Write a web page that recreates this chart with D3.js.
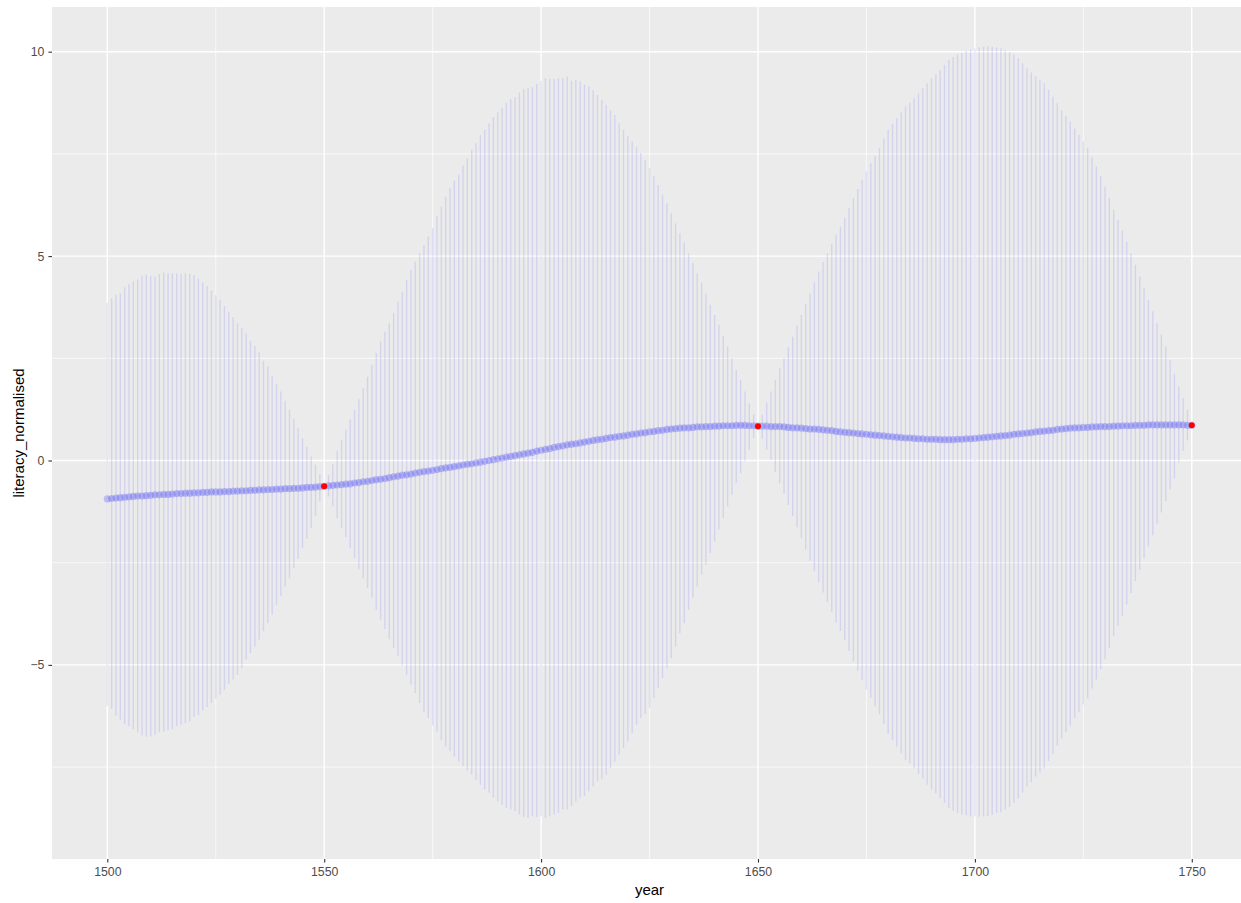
<!DOCTYPE html>
<html>
<head>
<meta charset="utf-8">
<script src="https://cdn.jsdelivr.net/npm/d3@7"></script>
<style>
  html, body { margin: 0; padding: 0; background: #ffffff; }
  svg { display: block; }
</style>
</head>
<body>
<svg id="chart" width="1241" height="903"></svg>
<script>
// ---- data ----
const startYear = 1500, endYear = 1750;
const years = d3.range(startYear, endYear + 1);

const meanValues = [
  -0.94,-0.93,-0.92,-0.91,-0.90,-0.89,-0.88,-0.87,-0.87,-0.86,
  -0.85,-0.84,-0.84,-0.83,-0.83,-0.82,-0.81,-0.81,-0.80,-0.80,
  -0.79,-0.79,-0.78,-0.78,-0.77,-0.77,-0.77,-0.76,-0.76,-0.75,
  -0.75,-0.74,-0.74,-0.73,-0.73,-0.72,-0.72,-0.71,-0.71,-0.70,
  -0.70,-0.69,-0.69,-0.68,-0.68,-0.67,-0.66,-0.66,-0.65,-0.64,
  -0.63,-0.62,-0.61,-0.60,-0.59,-0.58,-0.57,-0.55,-0.54,-0.52,
  -0.51,-0.49,-0.47,-0.46,-0.44,-0.42,-0.40,-0.38,-0.36,-0.35,
  -0.33,-0.31,-0.29,-0.27,-0.26,-0.24,-0.22,-0.20,-0.18,-0.17,
  -0.15,-0.13,-0.11,-0.09,-0.08,-0.06,-0.04,-0.02,0.00,0.02,
  0.04,0.06,0.08,0.10,0.12,0.14,0.16,0.18,0.20,0.23,
  0.25,0.27,0.29,0.32,0.34,0.36,0.38,0.40,0.41,0.43,
  0.45,0.47,0.49,0.51,0.52,0.54,0.56,0.57,0.59,0.60,
  0.62,0.64,0.65,0.67,0.68,0.70,0.71,0.73,0.74,0.76,
  0.77,0.78,0.79,0.80,0.80,0.81,0.82,0.82,0.83,0.83,
  0.84,0.84,0.85,0.85,0.85,0.86,0.86,0.86,0.85,0.85,
  0.84,0.84,0.84,0.83,0.83,0.83,0.82,0.81,0.80,0.80,
  0.79,0.78,0.77,0.77,0.76,0.75,0.74,0.73,0.71,0.70,
  0.69,0.68,0.67,0.66,0.65,0.64,0.63,0.62,0.61,0.60,
  0.59,0.58,0.57,0.56,0.55,0.55,0.54,0.53,0.53,0.52,
  0.52,0.52,0.51,0.51,0.51,0.51,0.52,0.52,0.53,0.53,
  0.54,0.55,0.56,0.57,0.58,0.59,0.60,0.61,0.62,0.64,
  0.65,0.66,0.67,0.68,0.70,0.71,0.72,0.73,0.74,0.76,
  0.77,0.78,0.79,0.80,0.80,0.81,0.81,0.82,0.82,0.83,
  0.83,0.83,0.84,0.84,0.85,0.85,0.85,0.86,0.86,0.86,
  0.87,0.87,0.87,0.87,0.87,0.87,0.87,0.87,0.87,0.86,
  0.86
];

const upperValues = [
  3.86,3.97,4.05,4.09,4.24,4.31,4.38,4.43,4.52,4.55,
  4.52,4.50,4.56,4.60,4.58,4.58,4.58,4.56,4.58,4.56,
  4.54,4.46,4.36,4.27,4.16,4.05,3.93,3.78,3.64,3.51,
  3.36,3.24,3.11,2.93,2.80,2.64,2.44,2.30,2.07,1.88,
  1.69,1.46,1.24,1.02,0.79,0.55,0.33,0.10,-0.10,-0.33,
  -0.63,-0.36,-0.08,0.24,0.50,0.75,1.00,1.24,1.50,1.77,
  2.05,2.34,2.63,2.91,3.15,3.36,3.60,3.89,4.13,4.42,
  4.66,4.87,5.07,5.27,5.48,5.68,5.97,6.21,6.45,6.66,
  6.85,6.99,7.21,7.39,7.60,7.76,7.96,8.09,8.25,8.40,
  8.51,8.62,8.75,8.84,8.89,9.00,9.08,9.11,9.13,9.21,
  9.29,9.35,9.33,9.33,9.35,9.35,9.39,9.29,9.32,9.27,
  9.19,9.15,9.06,8.94,8.82,8.70,8.57,8.45,8.25,8.09,
  7.94,7.80,7.66,7.52,7.35,7.15,6.96,6.74,6.50,6.29,
  6.05,5.80,5.56,5.33,5.07,4.83,4.58,4.35,4.09,3.81,
  3.56,3.32,3.05,2.79,2.50,2.22,1.97,1.69,1.40,1.13,
  0.84,1.12,1.42,1.69,1.97,2.26,2.50,2.77,3.03,3.30,
  3.56,3.83,4.09,4.36,4.62,4.85,5.07,5.30,5.52,5.72,
  5.93,6.18,6.42,6.64,6.86,7.07,7.27,7.45,7.64,7.87,
  8.09,8.23,8.37,8.52,8.66,8.76,8.86,8.98,9.10,9.23,
  9.35,9.45,9.55,9.68,9.80,9.87,9.94,9.98,10.02,10.05,
  10.08,10.10,10.12,10.13,10.12,10.10,10.08,10.04,10.00,9.93,
  9.84,9.72,9.59,9.49,9.39,9.31,9.23,9.06,8.90,8.74,
  8.57,8.43,8.29,8.12,7.96,7.80,7.64,7.42,7.19,6.95,
  6.70,6.42,6.13,5.88,5.63,5.35,5.07,4.79,4.50,4.22,
  3.93,3.65,3.36,3.08,2.79,2.45,2.12,1.81,1.53,1.24,
  0.86
];

const lowerValues = [
  -6.01,-6.08,-6.24,-6.34,-6.45,-6.50,-6.57,-6.65,-6.73,-6.76,
  -6.75,-6.71,-6.65,-6.63,-6.60,-6.57,-6.50,-6.46,-6.42,-6.38,
  -6.27,-6.22,-6.11,-6.03,-5.93,-5.83,-5.73,-5.61,-5.46,-5.36,
  -5.24,-5.08,-4.87,-4.71,-4.55,-4.38,-4.18,-3.98,-3.77,-3.53,
  -3.31,-3.08,-2.88,-2.63,-2.41,-2.14,-1.92,-1.65,-1.35,-1.00,
  -0.63,-0.88,-1.12,-1.41,-1.65,-1.87,-2.14,-2.39,-2.66,-2.88,
  -3.12,-3.36,-3.65,-3.89,-4.12,-4.37,-4.59,-4.79,-5.02,-5.24,
  -5.48,-5.69,-5.93,-6.14,-6.30,-6.48,-6.63,-6.83,-6.99,-7.11,
  -7.24,-7.36,-7.48,-7.58,-7.68,-7.81,-7.93,-8.05,-8.13,-8.25,
  -8.34,-8.42,-8.50,-8.54,-8.58,-8.66,-8.72,-8.74,-8.70,-8.72,
  -8.70,-8.74,-8.70,-8.66,-8.62,-8.54,-8.54,-8.46,-8.34,-8.25,
  -8.21,-8.09,-7.97,-7.85,-7.80,-7.68,-7.52,-7.36,-7.20,-7.03,
  -6.87,-6.67,-6.46,-6.30,-6.20,-6.05,-5.81,-5.57,-5.32,-5.08,
  -4.83,-4.55,-4.22,-3.98,-3.65,-3.36,-3.08,-2.79,-2.55,-2.26,
  -1.98,-1.69,-1.41,-1.12,-0.84,-0.55,-0.31,-0.02,0.26,0.55,
  0.84,0.53,0.26,0.01,-0.28,-0.56,-0.81,-1.09,-1.36,-1.63,
  -1.90,-2.18,-2.45,-2.71,-2.98,-3.23,-3.46,-3.70,-3.96,-4.17,
  -4.39,-4.66,-4.91,-5.14,-5.37,-5.60,-5.81,-6.01,-6.21,-6.45,
  -6.69,-6.84,-7.00,-7.16,-7.32,-7.41,-7.53,-7.67,-7.78,-7.93,
  -8.05,-8.14,-8.26,-8.38,-8.50,-8.57,-8.62,-8.66,-8.68,-8.70,
  -8.71,-8.71,-8.71,-8.70,-8.67,-8.63,-8.60,-8.54,-8.48,-8.37,
  -8.26,-8.13,-7.98,-7.87,-7.73,-7.63,-7.53,-7.35,-7.18,-6.98,
  -6.80,-6.64,-6.49,-6.30,-6.15,-5.97,-5.82,-5.58,-5.36,-5.11,
  -4.86,-4.59,-4.29,-4.05,-3.79,-3.52,-3.24,-2.95,-2.67,-2.40,
  -2.10,-1.83,-1.55,-1.27,-0.99,-0.71,-0.44,-0.04,0.23,0.49,
  0.86
];

// observed points (red)
const obsYears = [1550, 1650, 1750];
const obsValues = [-0.63, 0.84, 0.86];

// axis ticks
const xMajorTicks = [1500, 1550, 1600, 1650, 1700, 1750];
const xMinorTicks = [1525, 1575, 1625, 1675, 1725];
const yMajorTicks = [-5, 0, 5, 10];
const yMinorTicks = [-7.5, -2.5, 2.5, 7.5];

const xTitle = "year";
const yTitle = "literacy_normalised";

// ---- layout ----
const svg = d3.select("#chart");
const panel = { left: 52, top: 7, right: 1246, bottom: 859 };

const x = d3.scaleLinear().domain([1487.25, 1762.5]).range([panel.left, panel.right]);
const y = d3.scaleLinear().domain([-9.748, 11.093]).range([panel.bottom, panel.top]);

const data = years.map((yr, i) => ({ year: yr, mean: meanValues[i], lo: lowerValues[i], hi: upperValues[i] }));

// panel background
svg.append("rect")
  .attr("x", panel.left).attr("y", panel.top)
  .attr("width", panel.right - panel.left).attr("height", panel.bottom - panel.top)
  .attr("fill", "#EBEBEB");

const grid = svg.append("g");
grid.selectAll(".xminor").data(xMinorTicks).join("line")
  .attr("x1", d => x(d)).attr("x2", d => x(d))
  .attr("y1", panel.top).attr("y2", panel.bottom)
  .attr("stroke", "#ffffff").attr("stroke-width", 0.7);
grid.selectAll(".yminor").data(yMinorTicks).join("line")
  .attr("y1", d => y(d)).attr("y2", d => y(d))
  .attr("x1", panel.left).attr("x2", panel.right)
  .attr("stroke", "#ffffff").attr("stroke-width", 0.7);
grid.selectAll(".xmajor").data(xMajorTicks).join("line")
  .attr("x1", d => x(d)).attr("x2", d => x(d))
  .attr("y1", panel.top).attr("y2", panel.bottom)
  .attr("stroke", "#ffffff").attr("stroke-width", 1.4);
grid.selectAll(".ymajor").data(yMajorTicks).join("line")
  .attr("y1", d => y(d)).attr("y2", d => y(d))
  .attr("x1", panel.left).attr("x2", panel.right)
  .attr("stroke", "#ffffff").attr("stroke-width", 1.4);

// error bars
svg.append("g").selectAll("line").data(data).join("line")
  .attr("x1", d => x(d.year)).attr("x2", d => x(d.year))
  .attr("y1", d => y(d.lo)).attr("y2", d => y(d.hi))
  .attr("stroke", "#0000FF").attr("stroke-opacity", 0.1).attr("stroke-width", 1.4);

// mean points
svg.append("g").selectAll("circle").data(data).join("circle")
  .attr("cx", d => x(d.year)).attr("cy", d => y(d.mean)).attr("r", 3.6)
  .attr("fill", "#0000FF").attr("fill-opacity", 0.2);

// observed points
svg.append("g").selectAll("circle").data(obsYears.map((yr, i) => ({ year: yr, v: obsValues[i] }))).join("circle")
  .attr("cx", d => x(d.year)).attr("cy", d => y(d.v)).attr("r", 3)
  .attr("fill", "#FF0000");

// axes
const fontFam = "'Liberation Sans', Arial, sans-serif";
const xAxis = d3.axisBottom(x).tickValues(xMajorTicks).tickSize(3.6).tickPadding(5).tickFormat(d3.format("d"));
const gx = svg.append("g").attr("transform", `translate(0,${panel.bottom})`).call(xAxis);
gx.select(".domain").remove();
gx.selectAll(".tick line").attr("stroke", "#333333").attr("stroke-width", 1.1);
gx.selectAll(".tick text").attr("fill", "#4D4D4D").style("font-family", fontFam).style("font-size", "12.3px");

const yAxis = d3.axisLeft(y).tickValues(yMajorTicks).tickSize(3.6).tickPadding(4).tickFormat(d3.format("d"));
const gy = svg.append("g").attr("transform", `translate(${panel.left},0)`).call(yAxis);
gy.select(".domain").remove();
gy.selectAll(".tick line").attr("stroke", "#333333").attr("stroke-width", 1.1);
gy.selectAll(".tick text").attr("fill", "#4D4D4D").style("font-family", fontFam).style("font-size", "12.3px");

// axis titles
svg.append("text")
  .attr("x", (panel.left + 1241) / 2 + 3).attr("y", 895)
  .attr("text-anchor", "middle")
  .style("font-family", fontFam).style("font-size", "15px").attr("fill", "#000000")
  .text(xTitle);
svg.append("text")
  .attr("transform", `translate(24,${(panel.top + panel.bottom) / 2}) rotate(-90)`)
  .attr("text-anchor", "middle")
  .style("font-family", fontFam).style("font-size", "15px").attr("fill", "#000000")
  .text(yTitle);
</script>
</body>
</html>
